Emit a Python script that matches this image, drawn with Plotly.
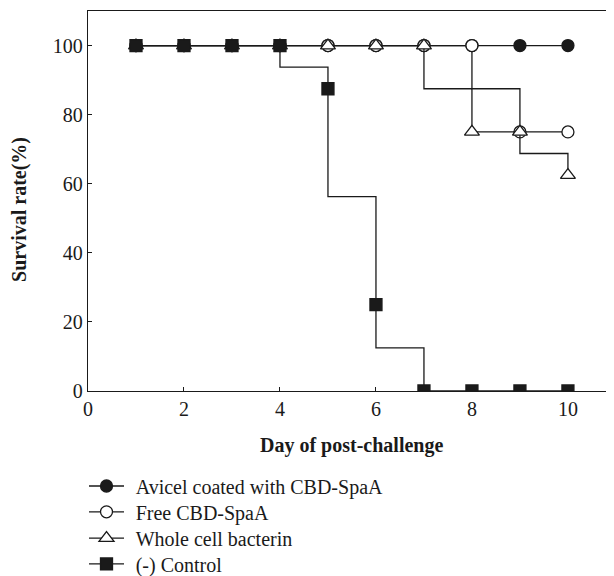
import plotly.graph_objects as go

days = [1, 2, 3, 4, 5, 6, 7, 8, 9, 10]
avicel = [100, 100, 100, 100, 100, 100, 100, 100, 100, 100]
free_cbd = [100, 100, 100, 100, 100, 100, 100, 100, 75, 75]
whole_cell = [100, 100, 100, 100, 100, 100, 100, 75, 75, 62.5]
control = [100, 100, 100, 100, 87.5, 25, 0, 0, 0, 0]

names = ["Avicel coated with CBD-SpaA", "Free CBD-SpaA", "Whole cell bacterin", "(-) Control"]
series = [avicel, free_cbd, whole_cell, control]
symbols = ["circle", "circle", "triangle-up", "square"]
fills = ["#1a1a1a", "white", "white", "#1a1a1a"]
sizes = [12, 12, 13, 12]
legend_ids = ["legend", "legend2", "legend3", "legend4"]
legend_y = [-0.250, -0.318, -0.387, -0.455]

INK = "#1a1a1a"
FONT = "Liberation Serif"

fig = go.Figure()
for name, vals, sym, fc, sz, lid in zip(names, series, symbols, fills, sizes, legend_ids):
    fig.add_trace(go.Scatter(
        x=days, y=vals, name="&nbsp;&#8202;" + name, mode="lines+markers", legend=lid,
        line=dict(color=INK, width=1.3, shape="vhv"),
        marker=dict(symbol=sym, size=sz, color=fc, line=dict(color=INK, width=1.3)),
    ))

legend_common = dict(x=-0.0076, xanchor="left", yanchor="middle", itemwidth=35,
                     font=dict(family=FONT, size=20, color=INK),
                     bgcolor="rgba(0,0,0,0)")
legends = {lid: dict(legend_common, y=ly) for lid, ly in zip(legend_ids, legend_y)}

fig.update_layout(
    width=606, height=568,
    margin=dict(l=80, r=0, t=3, b=185, autoexpand=False),
    paper_bgcolor="white", plot_bgcolor="white",
    font=dict(family=FONT, size=20, color=INK),
    showlegend=True,
    **legends,
    xaxis=dict(range=[0, 10.96], tickvals=[0, 2, 4, 6, 8, 10], ticks="inside", ticklen=4,
               tickcolor=INK, showline=True, linecolor=INK, linewidth=1.3, mirror=True,
               showgrid=False, zeroline=False, tickfont=dict(size=20)),
    yaxis=dict(range=[0, 110], tickvals=[0, 20, 40, 60, 80, 100], ticks="inside", ticklen=4,
               tickcolor=INK, showline=True, linecolor=INK, linewidth=1.3, mirror=False,
               showgrid=False, zeroline=False, tickfont=dict(size=20)),
    annotations=[
        dict(text="<b>Day of post-challenge</b>", x=0.5, y=0, xref="paper", yref="paper",
             xanchor="center", yanchor="middle", yshift=-54,
             showarrow=False, font=dict(size=20)),
        dict(text="<b>Survival rate(%)</b>", x=0, xref="paper", xshift=-68, y=52.4, yref="y",
             xanchor="center", yanchor="middle",
             showarrow=False, textangle=-90, font=dict(size=20)),
    ],
)

fig.write_html("out.html")
